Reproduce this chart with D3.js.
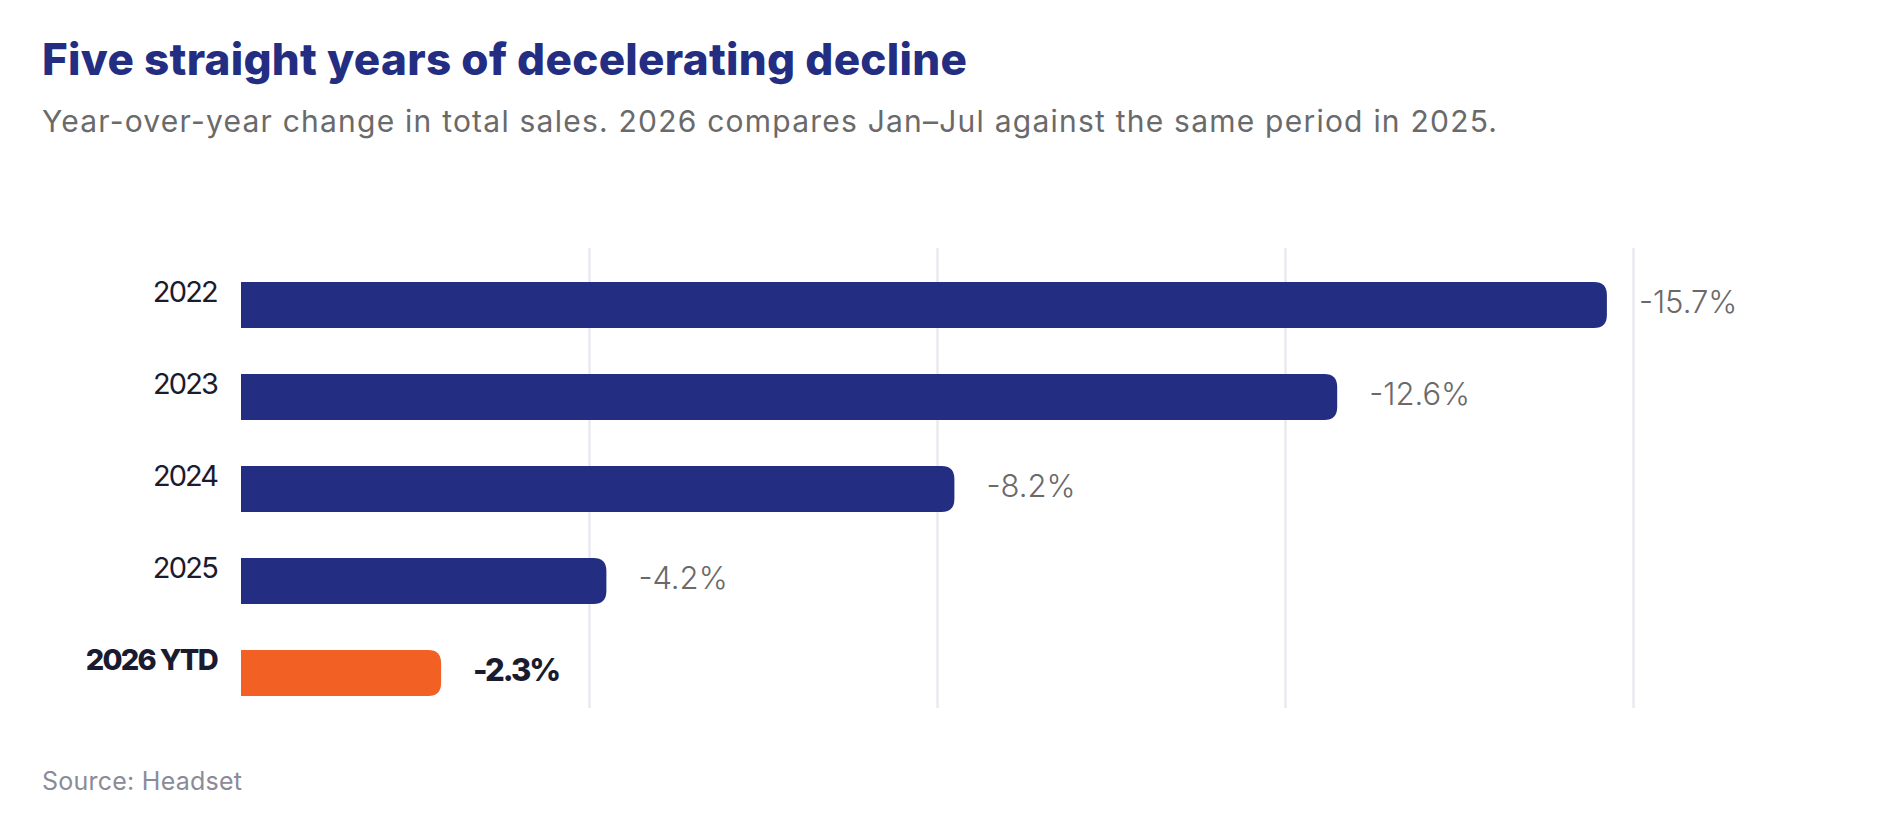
<!DOCTYPE html>
<html>
<head>
<meta charset="utf-8">
<script src="https://cdn.jsdelivr.net/npm/d3@7"></script>
<style>
  html, body { margin: 0; padding: 0; background: #fff; }
  svg { display: block; font-family: Inter, "Open Sans", sans-serif; }
</style>
</head>
<body>
<div id="chart"></div>
<script>
const WIDTH = 1881;
const HEIGHT = 837;

// data
const years = ["2022", "2023", "2024", "2025", "2026 YTD"];
const changes = [-15.7, -12.6, -8.2, -4.2, -2.3];
const gridTicks = [-4, -8, -12, -16];
const highlight = "2026 YTD";

const TITLE = "Five straight years of decelerating decline";
const SUBTITLE = "Year-over-year change in total sales. 2026 compares Jan\u2013Jul against the same period in 2025.";
const SOURCE = "Source: Headset";

const NAVY = "#232e82";
const ORANGE = "#f26024";
const INK = "#1b1b30";
const GREY = "#6a6a6a";

const PLOT = { LEFT: 241, RIGHT: 1633, TOP: 248, BOTTOM: 708 };

const svg = d3
  .select("#chart")
  .append("svg")
  .attr("width", WIDTH)
  .attr("height", HEIGHT);

// stretch letter spacing so a text run covers the same width as in the original
function fitWidth(sel, target) {
  sel.each(function () {
    const t = d3.select(this);
    const w = this.getComputedTextLength();
    const n = t.text().length;
    if (n > 1) t.attr("letter-spacing", (target - w) / (n - 1));
  });
}

// header
svg
  .append("text")
  .attr("x", 42)
  .attr("y", 75)
  .attr("fill", NAVY)
  .attr("font-size", "44px")
  .attr("font-weight", 800)
  .text(TITLE)
  .call(fitWidth, 925);

svg
  .append("text")
  .attr("x", 42)
  .attr("y", 132)
  .attr("fill", GREY)
  .attr("font-size", "30px")
  .attr("font-weight", 400)
  .text(SUBTITLE)
  .call(fitWidth, 1455);

// scales
const x = d3.scaleLinear().domain([0, -16]).range([PLOT.LEFT, PLOT.RIGHT]);
const y = d3
  .scaleBand()
  .domain(years)
  .range([PLOT.TOP + 11, PLOT.BOTTOM + 11])
  .paddingInner(0.5)
  .paddingOuter(0.25);

// vertical gridlines
const grid = svg
  .append("g")
  .attr("transform", `translate(0, ${PLOT.TOP})`)
  .call(
    d3
      .axisBottom(x)
      .tickValues(gridTicks)
      .tickSize(PLOT.BOTTOM - PLOT.TOP)
      .tickFormat("")
  );
grid.select(".domain").remove();
grid.selectAll(".tick line").attr("stroke", "#e9e9f1").attr("stroke-width", 2.5);

// bar with square left end and rounded right end
function barPath(x0, x1, top, h, r) {
  const rr = Math.min(r, (x1 - x0) / 2, h / 2);
  return `M${x0},${top}H${x1 - rr}Q${x1},${top} ${x1},${top + rr}` +
    `V${top + h - rr}Q${x1},${top + h} ${x1 - rr},${top + h}H${x0}Z`;
}

const rows = years.map((yr, i) => ({ year: yr, value: changes[i] }));

svg
  .append("g")
  .selectAll("path")
  .data(rows)
  .join("path")
  .attr("fill", (d) => (d.year === highlight ? ORANGE : NAVY))
  .attr("d", (d) => barPath(x(0), x(d.value), y(d.year), y.bandwidth(), 13));

// category labels
const yearLabels = svg
  .append("g")
  .selectAll("text")
  .data(rows)
  .join("text")
  .attr("x", PLOT.LEFT - 24)
  .attr("y", (d) => y(d.year) + 20)
  .attr("text-anchor", "end")
  .attr("fill", INK)
  .attr("font-size", "29px")
  .attr("font-weight", (d) => (d.year === highlight ? 800 : 400))
  .text((d) => d.year);
yearLabels.filter((d) => d.year !== highlight).call(fitWidth, 66);
yearLabels.filter((d) => d.year === highlight).call(fitWidth, 133);

// value labels
const valueLabels = svg
  .append("g")
  .selectAll("text")
  .data(rows)
  .join("text")
  .attr("x", (d) => x(d.value) + 32)
  .attr("y", (d) => y(d.year) + 31)
  .attr("fill", (d) => (d.year === highlight ? INK : GREY))
  .attr("font-size", "31px")
  .attr("font-weight", (d) => (d.year === highlight ? 800 : 300))
  .text((d) => d.value.toFixed(1) + "%");
valueLabels.filter((d) => d.year === highlight).call(fitWidth, 88);

// footer
svg
  .append("text")
  .attr("x", 42)
  .attr("y", 790)
  .attr("fill", "#8b8b98")
  .attr("font-size", "25px")
  .text(SOURCE)
  .call(fitWidth, 200);
</script>
</body>
</html>
